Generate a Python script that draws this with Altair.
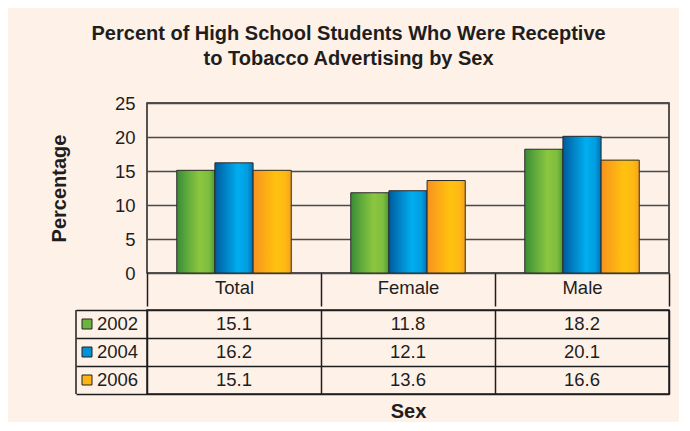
import altair as alt
import pandas as pd

categories = ["Total", "Female", "Male"]
years = ["2002", "2004", "2006"]
values_2002 = [15.1, 11.8, 18.2]
values_2004 = [16.2, 12.1, 20.1]
values_2006 = [15.1, 13.6, 16.6]
y_ticks = [0, 5, 10, 15, 20, 25]

title_lines = ["Percent of High School Students Who Were Receptive",
               "to Tobacco Advertising by Sex"]

series = {"2002": values_2002, "2004": values_2004, "2006": values_2006}
rows = []
for yr in years:
    for cat, v in zip(categories, series[yr]):
        rows.append({"Sex": cat, "Year": yr, "Percentage": v, "Label": f"{v:.1f}"})
df = pd.DataFrame(rows)
year_df = pd.DataFrame({"Year": years})
one_df = pd.DataFrame({"k": [0]})

FONT = "Liberation Sans"
INK = "#1e1e1e"
FS = 18.5   # regular text
FB = 20     # bold text

gradients = {
    "2002": [("#3a8b36", 0.0), ("#62ad3d", 0.3), ("#8dc63f", 0.6), ("#7dbd3e", 0.85), ("#4c9a37", 1.0)],
    "2004": [("#005a9e", 0.0), ("#0085c8", 0.3), ("#00aeef", 0.6), ("#009ee0", 0.85), ("#0070b5", 1.0)],
    "2006": [("#f6921e", 0.0), ("#fcaa17", 0.3), ("#ffc20e", 0.6), ("#fdb913", 0.85), ("#f7a11b", 1.0)],
}
legend_colors = ["#6db33f", "#0092d6", "#fdb515"]

x_scale = alt.Scale(domain=categories, paddingInner=0, paddingOuter=0)
off_scale = alt.Scale(domain=years, paddingInner=0, paddingOuter=0.78)

x_bar_axis = alt.Axis(title=None, domain=False, ticks=True, tickBand="extent",
                      tickSize=33, tickColor=INK, tickWidth=1.5, labelPadding=-28,
                      labelFontSize=FS, labelFont=FONT, labelColor=INK,
                      labelAngle=0, grid=False)
y_bar_axis = alt.Axis(values=y_ticks, title="Percentage", titleFontSize=FB,
                      titleFont=FONT, titleFontWeight="bold", titleColor=INK,
                      titlePadding=45, labelFontSize=FS, labelFont=FONT,
                      labelColor=INK, labelPadding=12, ticks=False, domain=False,
                      grid=True, gridColor="#4a4a4a", gridWidth=1.5)

layers = []
for yr in years:
    g = alt.Gradient(gradient="linear", x1=0, x2=1, y1=0, y2=0,
                     stops=[alt.GradientStop(color=c, offset=o) for c, o in gradients[yr]])
    layers.append(
        alt.Chart(df).transform_filter(alt.datum.Year == yr)
        .mark_bar(fill=g, stroke="#2a2a2a", strokeWidth=1)
        .encode(
            x=alt.X("Sex:N", scale=x_scale, sort=categories, axis=x_bar_axis),
            xOffset=alt.XOffset("Year:N", scale=off_scale, sort=years),
            y=alt.Y("Percentage:Q", scale=alt.Scale(domain=[0, 25]), axis=y_bar_axis),
        )
    )
bars = alt.layer(*layers).properties(width=522, height=170)

x_tab_axis = alt.Axis(title="Sex", labels=False, ticks=False, domain=False,
                      grid=True, tickBand="extent", gridColor=INK, gridWidth=1.5,
                      titleFontSize=FB, titleFont=FONT, titleFontWeight="bold",
                      titleColor=INK, titlePadding=7)
y_tab_axis = alt.Axis(title=None, labels=False, ticks=True, tickBand="extent",
                      tickSize=71, tickColor=INK, tickWidth=1.5, domain=False,
                      grid=True, gridColor=INK, gridWidth=1.5)
y_tab = alt.Y("Year:N", scale=alt.Scale(domain=years, paddingInner=0, paddingOuter=0),
              sort=years, axis=y_tab_axis)

table_text = alt.Chart(df).mark_text(fontSize=FS, font=FONT, color=INK).encode(
    x=alt.X("Sex:N", scale=x_scale, sort=categories, axis=x_tab_axis),
    y=y_tab,
    text="Label:N",
)
year_text = alt.Chart(year_df).mark_text(fontSize=FS, font=FONT, color=INK, align="left").encode(
    x=alt.value(-50), y=y_tab, text="Year:N"
)
squares = alt.Chart(year_df).mark_point(shape="square", filled=True, size=100,
                                         stroke="#222", strokeWidth=1, opacity=1).encode(
    x=alt.value(-60), y=y_tab,
    fill=alt.Fill("Year:N", scale=alt.Scale(domain=years, range=legend_colors), legend=None),
)
vline = alt.Chart(one_df).mark_rule(color=INK, strokeWidth=1.5).encode(
    x=alt.value(-71), y=alt.value(0), y2=alt.value(84)
)
table = alt.layer(table_text, year_text, squares, vline).properties(width=522, height=84)

chart = alt.vconcat(bars, table, spacing=0).properties(
    title=alt.TitleParams(title_lines, fontSize=FB, font=FONT, fontWeight="bold",
                          color=INK, anchor="middle", lineHeight=25, offset=24, dx=-11),
    padding={"left": 40, "top": 16, "right": 8, "bottom": 0},
    background="#fef1e8",
).configure_view(stroke=INK, strokeWidth=1.5)

chart.save("out.html", embed_options={"renderer": "svg", "actions": False})
